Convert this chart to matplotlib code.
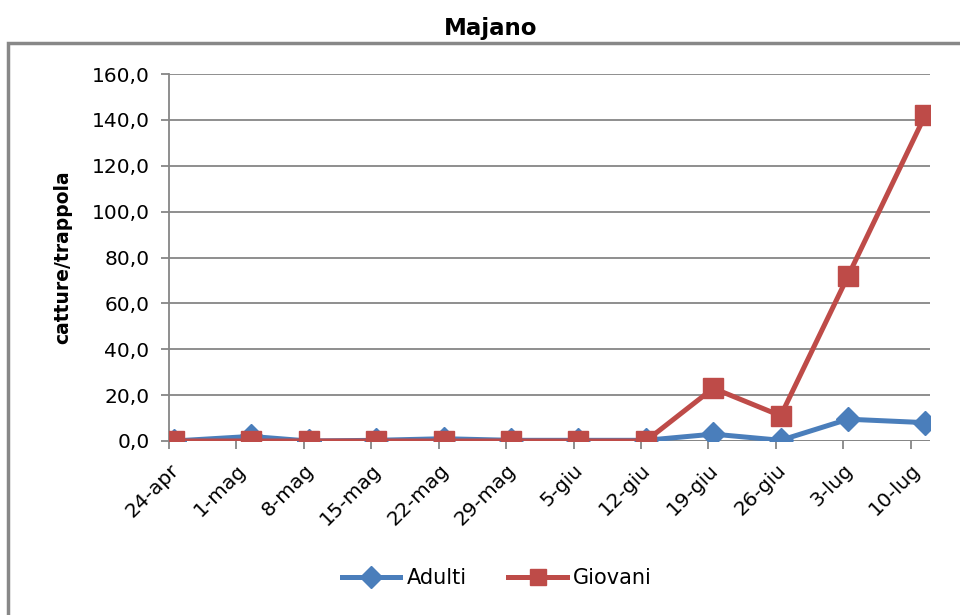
import matplotlib
matplotlib.use("Agg")
import matplotlib.pyplot as plt
from matplotlib.patches import Rectangle

# Data
tick_labels = ["24-apr", "1-mag", "8-mag", "15-mag", "22-mag", "29-mag",
               "5-giu", "12-giu", "19-giu", "26-giu", "3-lug", "10-lug"]
tick_days = [0, 7, 14, 21, 28, 35, 42, 49, 56, 63, 70, 77]
sample_days = [0, 8, 14, 21, 28, 35, 42, 49, 56, 63, 70, 78]
adulti = [0.0, 2.0, 0.0, 0.3, 1.0, 0.3, 0.3, 0.3, 3.0, 0.3, 9.5, 8.0]
giovani = [0.0, 0.0, 0.0, 0.0, 0.0, 0.0, 0.0, 0.0, 23.0, 11.0, 72.0, 142.0]
y_ticks = [0, 20, 40, 60, 80, 100, 120, 140, 160]

blue = "#4A7EBB"
red = "#BE4B48"
grid = "#868686"

fig = plt.figure(figsize=(9.6, 6.15), dpi=100)
W, H = 960, 615
ax = fig.add_axes([169 / W, 1 - 441 / H, (930 - 169) / W, (441 - 74) / H])

# frame
fig.patches.append(Rectangle((8 / W, -0.1), 1.1, 1 - 43 / H + 0.1,
                             transform=fig.transFigure, fill=False,
                             edgecolor="#888888", linewidth=2.5, zorder=0))

xs = [d + 0.5 for d in sample_days]
ax.plot(xs, adulti, color=blue, lw=3.6, marker="D", markersize=12,
        label="Adulti", zorder=3, solid_joinstyle="round")
ax.plot(xs, giovani, color=red, lw=3.6, marker="s", markersize=14,
        label="Giovani", zorder=4, solid_joinstyle="round")

ax.set_xlim(0, 79)
ax.set_ylim(0, 160)
ax.set_yticks(y_ticks)
ax.set_yticklabels([f"{v:.1f}".replace(".", ",") for v in y_ticks], fontsize=14.5)
ax.set_xticks(tick_days)
ax.set_xticklabels(tick_labels, rotation=45, ha="right", rotation_mode="anchor",
                   fontsize=14.5)
ax.yaxis.grid(True, color=grid, lw=1.3)
ax.set_axisbelow(True)
for s in ["top", "right", "bottom"]:
    ax.spines[s].set_visible(False)
ax.spines["left"].set_color(grid)
ax.spines["left"].set_linewidth(1.3)
ax.tick_params(axis="y", length=6, color=grid, width=1.3, pad=8)
ax.tick_params(axis="x", length=6, color=grid, width=1.3, pad=8)
ax.axhline(0, color=grid, lw=1.3, zorder=1)

ax.set_ylabel("catture/trappola", fontsize=13.5, fontweight="bold", labelpad=14)
fig.text(491 / W, 1 - 28 / H, "Majano", ha="center", va="center",
         fontsize=16.5, fontweight="bold")

leg = fig.legend(loc="center", bbox_to_anchor=(497 / W, 1 - 578 / H), ncol=2,
                 frameon=False, fontsize=15, handlelength=2.8,
                 columnspacing=2.0, handletextpad=0.3)
for h in leg.legend_handles:
    h.set_markersize(11)

fig.savefig("out.png", dpi=100)
